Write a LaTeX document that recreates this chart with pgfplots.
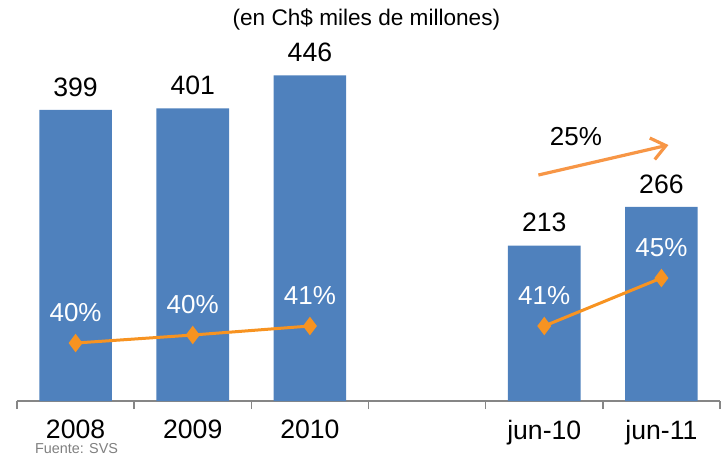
\documentclass[border=0pt]{standalone}
\usepackage{fontspec}
\setmainfont{Liberation Sans}
\usepackage{pgfplots}
\pgfplotsset{compat=1.18}
\usetikzlibrary{arrows.meta}
\definecolor{barblue}{HTML}{4F81BD}
\definecolor{lineorange}{HTML}{F79321}
\definecolor{arroworange}{HTML}{F79646}
\definecolor{axisgray}{HTML}{868686}
\definecolor{srcgray}{HTML}{7F7F7F}

\begin{document}
\begin{tikzpicture}
\useasboundingbox (-8.5pt,-27.5pt) rectangle (352.5pt,200.5pt);
% barras: monto en Ch$ miles de millones
\begin{axis}[
    scale only axis,
    width=351.5pt, height=170.5pt,
    xmin=-0.5, xmax=5.5,
    ymin=0, ymax=467.2,
    clip=false,
    axis x line=bottom,
    axis y line=none,
    x axis line style={axisgray, line width=0.8pt, -},
    xtick={0,1,2,4,5},
    xticklabels={2008,2009,2010,jun-10,jun-11},
    major tick length=0pt,
    minor xtick={-0.5,0.5,1.5,2.5,3.5,4.5,5.5},
    minor tick length=4pt,
    minor tick style={axisgray, line width=0.8pt},
    tick align=outside,
    xticklabel style={font=\fontsize{13.3}{15}\selectfont, yshift=-6pt},
    /pgf/number format/assume math mode=true,
    ybar, bar width=0.62,
]
\addplot[fill=barblue, draw=none,
    nodes near coords,
    every node near coord/.append style={font=\fontsize{13.3}{15}\selectfont, black, yshift=3.2pt}]
    coordinates {(0,399) (1,401) (2,446) (4,213) (5,266)};

\draw[arroworange, line width=1.6pt, -{Straight Barb[length=7pt,width=11pt]}]
    (axis cs:3.95,309.6) -- (axis cs:5.06,350.7);
\node[font=\fontsize{13}{15}\selectfont] at (axis cs:4.27,362.5) {25\%};
\node[font=\fontsize{11.3}{13}\selectfont] at (rel axis cs:0.497,1.12) {(en Ch\$ miles de millones)};
\node[font=\fontsize{7.2}{9}\selectfont, srcgray, anchor=west] at (rel axis cs:0.0156,-0.138) {Fuente: SVS};
\end{axis}

% linea: porcentaje (eje secundario)
\begin{axis}[
    scale only axis,
    width=351.5pt, height=170.5pt,
    xmin=-0.5, xmax=5.5,
    ymin=34.75, ymax=63.17,
    hide axis,
    clip=false,
]
\addplot[lineorange, line width=1.5pt, mark=diamond*, mark size=3.4pt,
    point meta=explicit symbolic,
    nodes near coords={\pgfplotspointmeta},
    every node near coord/.append style={font=\fontsize{13}{15}\selectfont, white, anchor=south, yshift=6.5pt}]
    coordinates {(0,39.58) [40\%] (1,40.25) [40\%] (2,41.0) [41\%]};
\addplot[lineorange, line width=1.5pt, mark=diamond*, mark size=3.4pt,
    point meta=explicit symbolic,
    nodes near coords={\pgfplotspointmeta},
    every node near coord/.append style={font=\fontsize{13}{15}\selectfont, white, anchor=south, yshift=6.5pt}]
    coordinates {(4,41.0) [41\%] (5,45.0) [45\%]};
\end{axis}
\end{tikzpicture}
\end{document}
